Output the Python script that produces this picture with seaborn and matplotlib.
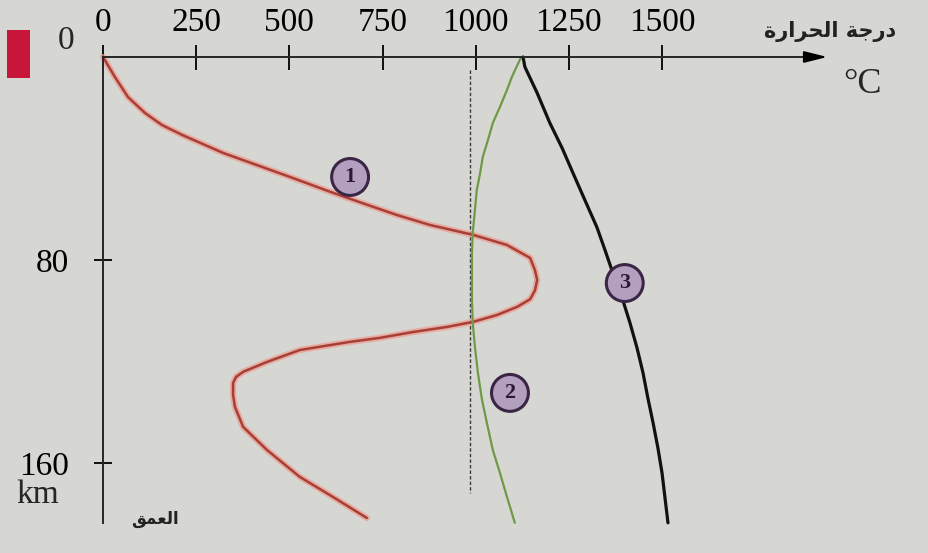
import numpy as np
import pandas as pd
import matplotlib
matplotlib.use("Agg")
import matplotlib.pyplot as plt
from matplotlib.patches import Rectangle
import seaborn as sns

# curve 1 (red): temperature vs depth
red_temp = [0, 32, 67, 113, 158, 212, 274, 322, 413, 502, 609, 698, 789, 877, 993, 1084,
            1146, 1159, 1165, 1159, 1146, 1111, 1057, 993, 923, 832, 743, 662, 528, 440,
            376, 357, 349, 349, 354, 376, 440, 528, 617, 708]
red_depth = [0, 7.9, 15.8, 22.1, 26.8, 30.7, 34.7, 37.8, 42.6, 47.3, 53.1, 57.7, 62.3, 66.2, 70.1, 74.1,
             79.2, 84.0, 87.9, 92.0, 95.5, 98.5, 101.7, 104.4, 106.4, 108.4, 110.7, 112.3, 115.5, 120.2,
             124.1, 126.1, 128.5, 133.2, 137.9, 145.8, 154.9, 165.5, 173.4, 181.7]

# curve 2 (green)
green_temp = [1122, 1097, 1084, 1065, 1046, 1033, 1019, 1012, 1003, 998, 992, 990, 990, 990,
              992, 998, 1006, 1017, 1030, 1046, 1065, 1084, 1105]
green_depth = [0, 7.9, 13.0, 19.7, 26.0, 32.7, 39.4, 45.7, 52.4, 60.3, 69.4, 77.2, 85.1, 95.8,
               104.8, 114.3, 124.5, 135.2, 144.2, 154.9, 163.9, 173.4, 183.6]

# curve 3 (black)
black_temp = [1127, 1132, 1165, 1199, 1232, 1261, 1293, 1325, 1347, 1368, 1393, 1414, 1433,
              1449, 1462, 1476, 1489, 1500, 1508, 1516]
black_depth = [0, 3.9, 14.2, 26.0, 35.9, 45.7, 56.4, 67.0, 76.1, 85.1, 95.0, 104.8, 114.7,
               124.5, 134.4, 144.2, 154.1, 163.9, 173.8, 183.6]

# dotted reference line
ref_temp = 985
ref_depth = [5, 172]

x_ticks = [0, 250, 500, 750, 1000, 1250, 1500]
y_ticks = [80, 160]

curve_labels = ["1", "2", "3"]
label_temp = [663, 1092, 1400]
label_depth = [47.3, 132.4, 89.1]

# arabic text in presentation forms (visual order)
title_temp = "\uFE93\uFEAD\uFE8D\uFEAE\uFEA4\uFEDF\uFE8D \uFE94\uFE9F\uFEAD\uFEA9"  # درجة الحرارة
title_depth = "\uFED6\uFEE4\uFECC\uFEDF\uFE8D"  # العمق

bg = "#d6d6d3"
sns.set_style("ticks")
plt.rcParams["font.family"] = ["Liberation Serif", "DejaVu Sans"]

fig = plt.figure(figsize=(9.29, 5.53), dpi=100, facecolor=bg)
ax = fig.add_axes([0, 0, 1, 1], facecolor=bg)

df_red = pd.DataFrame({"temp": red_temp, "depth": red_depth})
df_green = pd.DataFrame({"temp": green_temp, "depth": green_depth})
df_black = pd.DataFrame({"temp": black_temp, "depth": black_depth})

ax.plot([ref_temp, ref_temp], ref_depth, color="#3a3a3a", lw=1.0, ls=(0, (2.5, 1.5)))

sns.lineplot(data=df_red, x="temp", y="depth", sort=False, estimator=None, ax=ax,
             color="#ee9a8c", lw=4.5, alpha=0.7)
sns.lineplot(data=df_red, x="temp", y="depth", sort=False, estimator=None, ax=ax,
             color="#a83f36", lw=1.8)
sns.lineplot(data=df_green, x="temp", y="depth", sort=False, estimator=None, ax=ax,
             color="#6f9a45", lw=1.6)
sns.lineplot(data=df_black, x="temp", y="depth", sort=False, estimator=None, ax=ax,
             color="#111111", lw=2.3)

for lab, t, d in zip(curve_labels, label_temp, label_depth):
    ax.text(t, d, lab, ha="center", va="center", fontsize=16, fontweight="bold", color="#2a1a33",
            bbox=dict(boxstyle="circle,pad=0.38", fc="#b3a0bf", ec="#3a2545", lw=2.2))

# axes as arrows from the origin
ax.set_xlim(-276.4, 2216.4)
ax.set_ylim(195.5, -22.46)
for s in ["right", "bottom"]:
    ax.spines[s].set_visible(False)
ax.spines["top"].set_position(("data", 0))
ax.spines["left"].set_position(("data", 0))
ax.spines["top"].set_bounds(0, 1900)
ax.spines["left"].set_bounds(0, 183.6)
ax.spines["top"].set_linewidth(1.4)
ax.spines["left"].set_linewidth(1.4)
ax.annotate("", xy=(1951, 0), xytext=(1880, 0),
            arrowprops=dict(arrowstyle="-|>,head_length=1.4,head_width=0.35", color="black", lw=1.4))

ax.xaxis.tick_top()
ax.set_xticks(x_ticks)
ax.set_xticklabels([str(v) for v in x_ticks])
ax.set_yticks(y_ticks)
ax.set_yticklabels([str(v) for v in y_ticks])
ax.tick_params(axis="x", direction="inout", length=18, width=1.3, pad=5, labelsize=24, colors="black")
ax.tick_params(axis="y", direction="inout", length=13, width=1.3, pad=18, labelsize=24, colors="black")
ax.set_xlabel("")
ax.set_ylabel("")

ax.text(-99, -6.3, "0", ha="center", va="center", fontsize=24)
ax.text(-176, 172.5, "km", ha="center", va="center", fontsize=24)
ax.text(2039, 11.0, "°C", ha="center", va="center", fontsize=26)
ax.text(1951, -10.2, title_temp, ha="center", va="center", fontsize=15, fontweight="bold",
        family=["DejaVu Sans"], color="#222222")
ax.text(140, 182, title_depth, ha="center", va="center", fontsize=12, fontweight="bold",
        family=["DejaVu Sans"], color="#222222")

fig.add_artist(Rectangle((7 / 929, 1 - 78 / 553), 23 / 929, 48 / 553,
                         transform=fig.transFigure, color="#c8163a", lw=0))

fig.savefig("out.png", dpi=100, facecolor=bg)
